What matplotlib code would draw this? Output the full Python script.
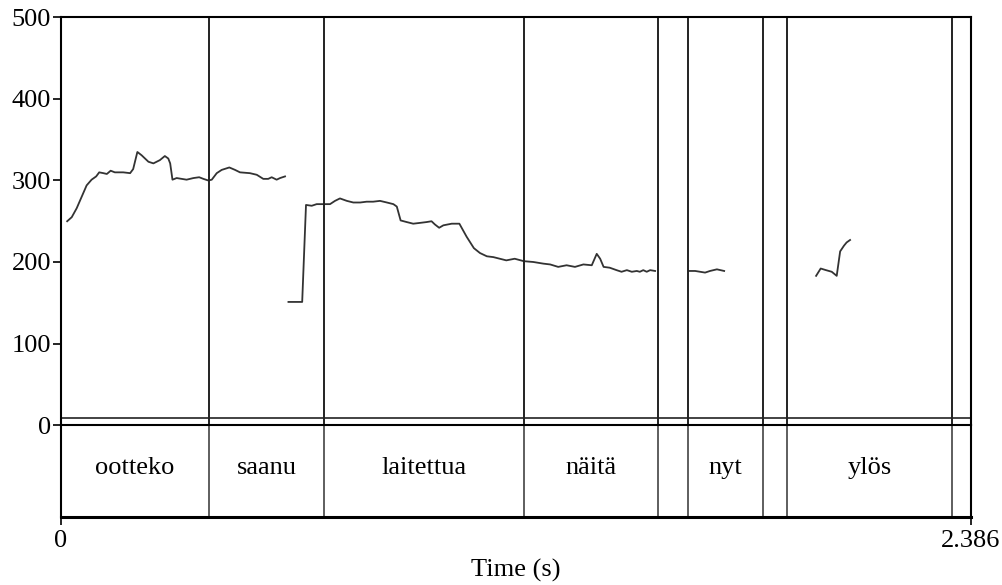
import numpy as np
import matplotlib.pyplot as plt

# pitch track (s, Hz); NaN separates the voiced stretches
times = [0.017, 0.029, 0.042, 0.055, 0.068, 0.081, 0.093, 0.101, 0.112, 0.121,
         0.131, 0.142, 0.164, 0.182, 0.190, 0.201, 0.212, 0.230, 0.243, 0.260,
         0.273, 0.282, 0.287, 0.293, 0.304, 0.317, 0.330, 0.348, 0.363, 0.374,
         0.387, 0.396, 0.409, 0.422, 0.442, 0.457, 0.470, 0.496, 0.514, 0.531,
         0.544, 0.553, 0.566, 0.575, 0.588,
         np.nan,
         0.597, 0.633, 0.643, 0.658, 0.671, 0.688, 0.706, 0.719, 0.732, 0.750,
         0.767, 0.785, 0.802, 0.819, 0.837, 0.855, 0.872, 0.881, 0.891, 0.907,
         0.924, 0.942, 0.959, 0.972, 0.981, 0.992, 1.003, 1.025, 1.045, 1.064,
         1.083, 1.099, 1.117, 1.134, 1.151, 1.168, 1.190, 1.214, 1.239, 1.265,
         1.283, 1.304, 1.326, 1.348, 1.370, 1.392, 1.405, 1.414, 1.423, 1.439,
         1.457, 1.470, 1.484, 1.497, 1.510, 1.518, 1.527, 1.536, 1.545, 1.558,
         np.nan,
         1.648, 1.663, 1.676, 1.689, 1.702, 1.720, 1.739,
         np.nan,
         1.980, 1.992, 2.006, 2.021, 2.034, 2.043, 2.053, 2.060, 2.069]
f0 = [250, 255, 266, 280, 294, 301, 305, 310, 309, 308,
      312, 310, 310, 309, 314, 335, 331, 323, 321, 325,
      330, 327, 321, 301, 303, 302, 301, 303, 304, 302,
      300, 301, 309, 313, 316, 313, 310, 309, 307, 302,
      302, 304, 301, 303, 305,
      np.nan,
      151, 151, 270, 269, 271, 271, 271, 275, 278, 275,
      273, 273, 274, 274, 275, 273, 271, 268, 251, 249,
      247, 248, 249, 250, 246, 242, 245, 247, 247, 231,
      217, 211, 207, 206, 204, 202, 204, 201, 200, 198,
      197, 194, 196, 194, 197, 196, 210, 204, 194, 193,
      190, 188, 190, 188, 189, 188, 190, 188, 190, 189,
      np.nan,
      189, 189, 188, 187, 189, 191, 189,
      np.nan,
      183, 192, 190, 188, 183, 213, 220, 224, 227]

# word tier
boundaries = [0.3885, 0.6912, 1.2144, 1.5667, 1.6443, 1.8409, 1.9038, 2.3355]
words = ["ootteko", "saanu", "laitettua", "näitä", "", "nyt", "", "ylös", ""]
t_end = 2.386

plt.rcParams['font.family'] = ['Liberation Serif', 'DejaVu Serif']
fs = 19

fig = plt.figure(figsize=(10.03, 5.85), dpi=100)
ax = fig.add_axes([0.0605, 0.2735, 0.9076, 0.6966])
ax2 = fig.add_axes([0.0605, 0.1157, 0.9076, 0.1578])

# pitch panel
ax.plot(times, f0, color='#333333', lw=1.3)
ax.set_xlim(0, t_end)
ax.set_ylim(0, 500)
ax.set_yticks([0, 100, 200, 300, 400, 500])
ax.set_xticks([])
ax.axhline(9, color='#222222', lw=1.2)
for b in boundaries:
    ax.axvline(b, color='#222222', lw=1.4)
for s in ax.spines.values():
    s.set_linewidth(1.5)
ax.spines['bottom'].set_linewidth(1.2)
ax.tick_params(axis='y', direction='out', length=6, width=1.2, labelsize=fs, pad=1)

# text grid panel
ax2.set_xlim(0, t_end)
ax2.set_ylim(0, 1)
ax2.set_yticks([])
edges = [0] + boundaries + [t_end]
for b in boundaries:
    ax2.axvline(b, color='#333333', lw=1.1)
for i, w in enumerate(words):
    ax2.text((edges[i] + edges[i + 1]) / 2, 0.53, w, ha='center', va='center', fontsize=fs)
for s in ax2.spines.values():
    s.set_linewidth(1.5)
ax2.spines['bottom'].set_linewidth(2.2)
ax2.set_xticks([0, t_end])
ax2.set_xticklabels(["0", "2.386"])
ax2.tick_params(axis='x', direction='out', length=6, width=1.2, labelsize=fs, pad=3)
ax2.set_xlabel("Time (s)", fontsize=fs, labelpad=5)

fig.savefig("out.png", dpi=100)
